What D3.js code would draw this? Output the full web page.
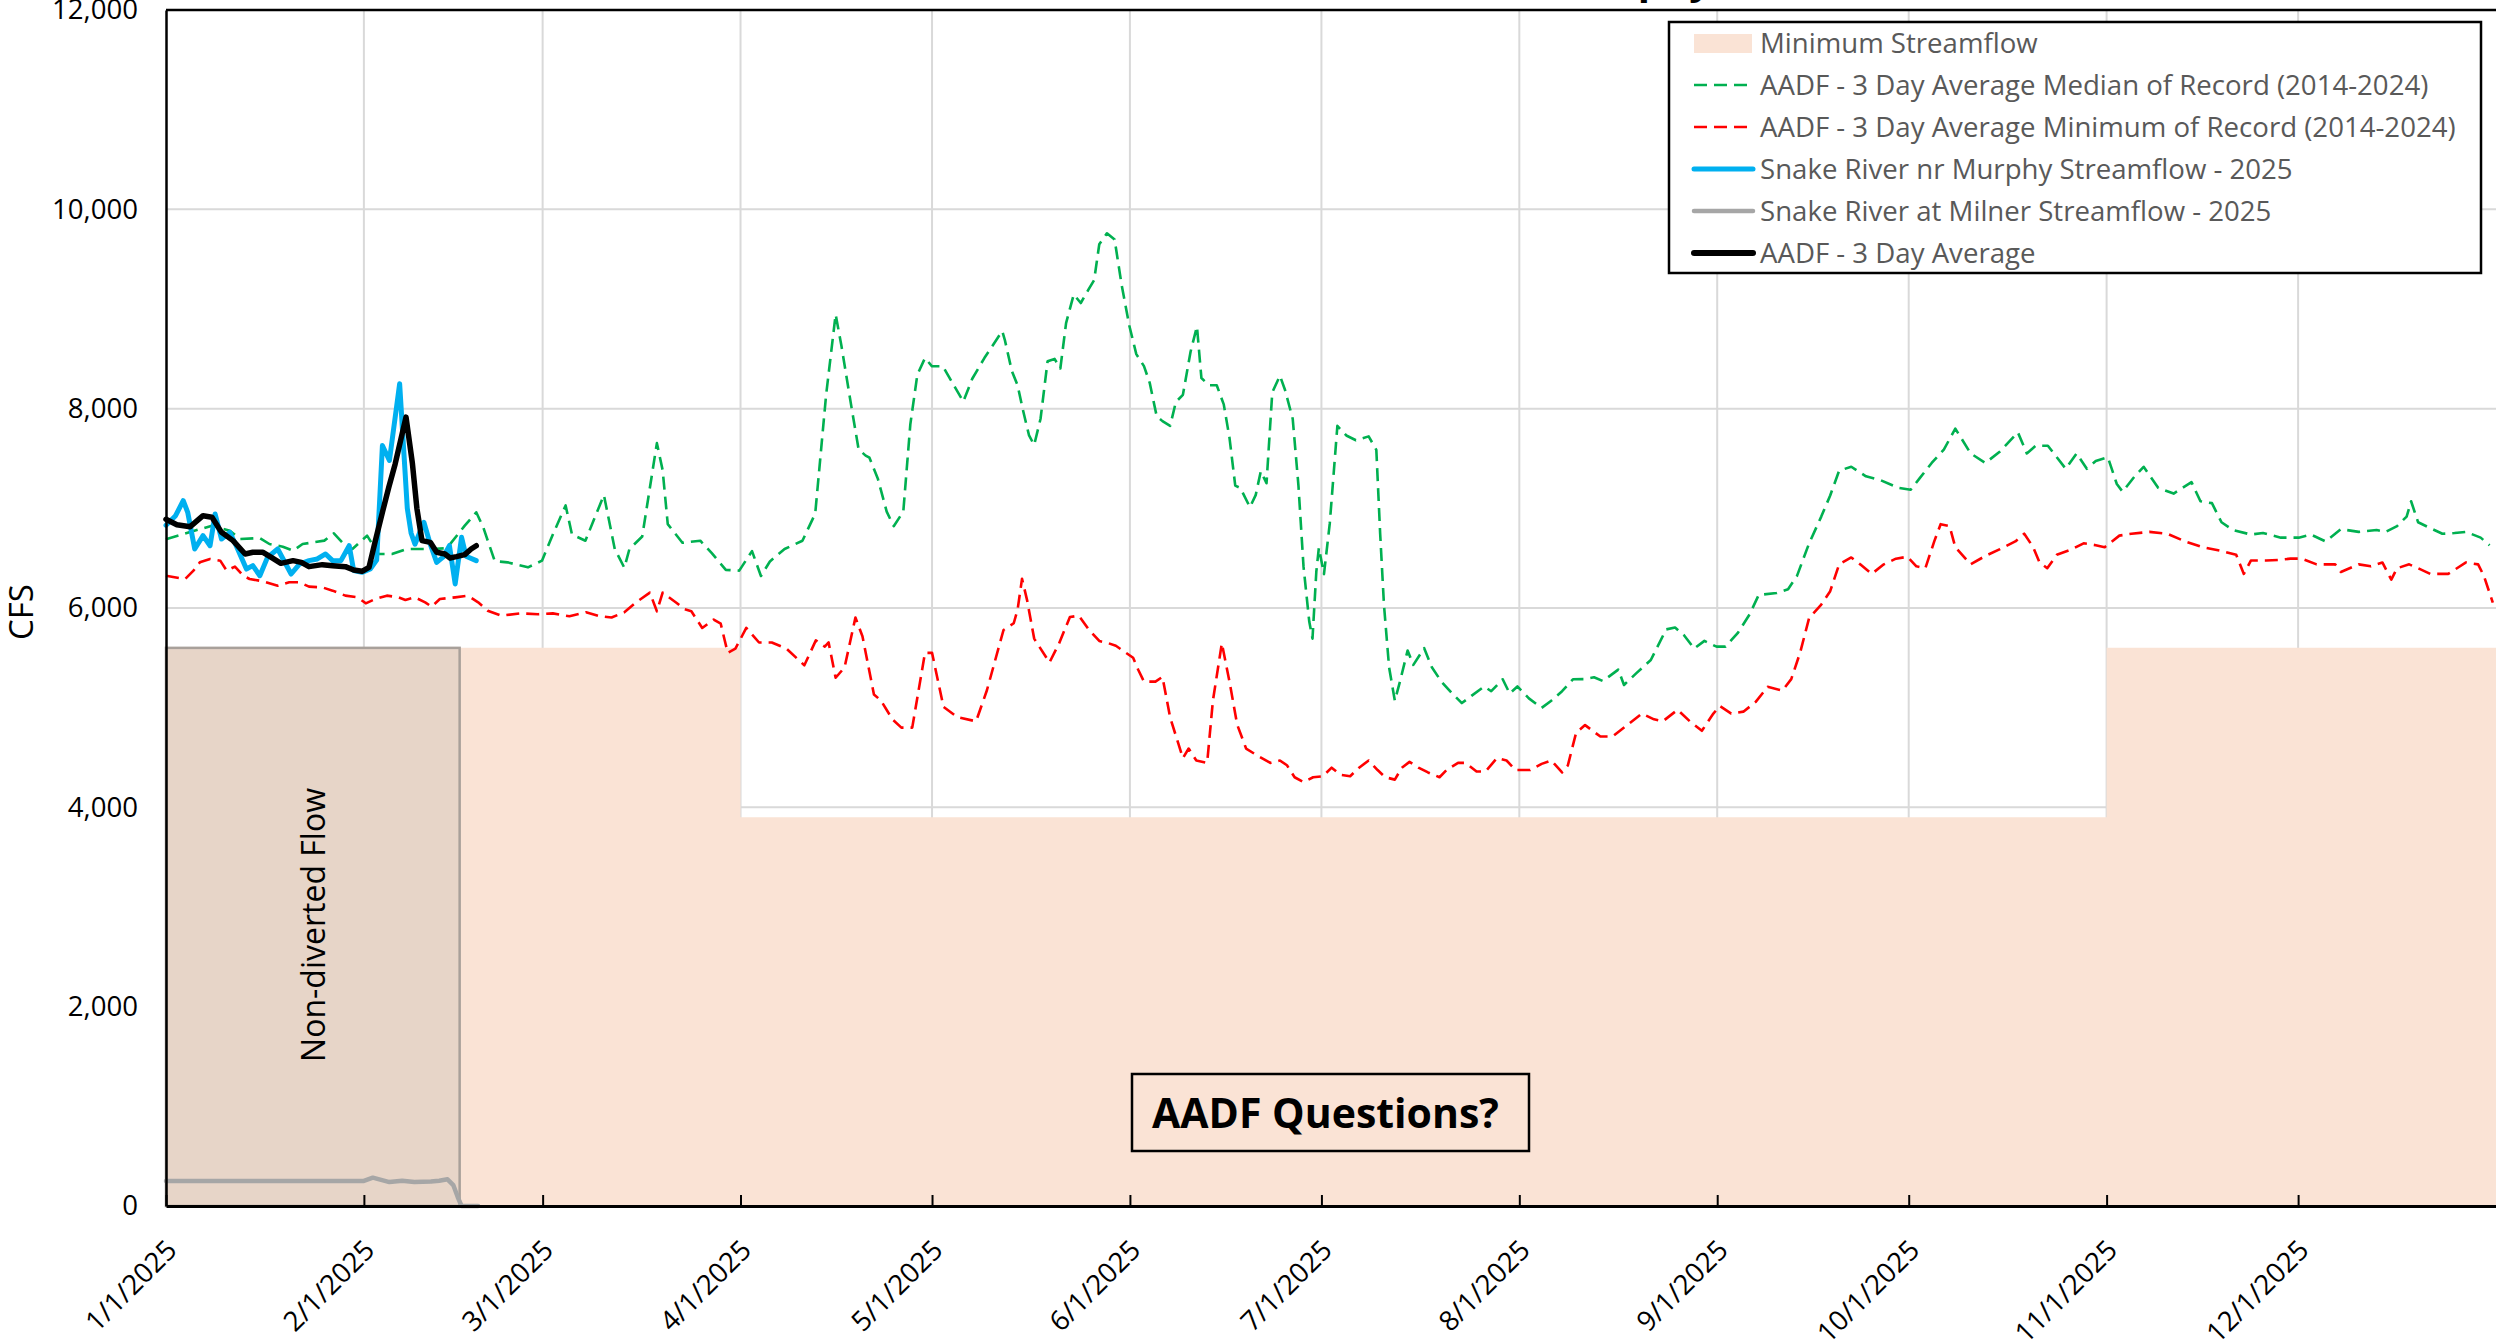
<!DOCTYPE html>
<html>
<head>
<meta charset="utf-8">
<script src="https://cdn.jsdelivr.net/npm/d3@7"></script>
<style>
  body { margin: 0; background: #fff; }
  svg { display: block; font-family: "Open Sans", sans-serif; }
</style>
</head>
<body>
<div id="chart"></div>
<script>
"use strict";

// [day of year (0 = 1/1/2025), cfs]
const medianRecord = [[0,6690],[2.7,6742],[7.2,6826],[10,6776],[11.6,6692],[14.7,6702],[16.2,6642],[18.3,6615],[19.9,6575],[21.4,6642],[24.8,6676],[26.3,6749],[27.6,6659],[29.2,6592],[31.5,6726],[33.3,6542],[35.4,6542],[37.7,6592],[41.6,6592],[44,6600],[46.8,6826],[48.6,6960],[49.7,6809],[51.5,6470],[53.5,6458],[56.7,6408],[58.9,6475],[60.6,6737],[62.6,7029],[63.6,6737],[65.7,6675],[68.6,7133],[70.3,6592],[71.8,6404],[72.6,6592],[74.6,6717],[76.9,7654],[77.8,7383],[78.6,6842],[80.9,6654],[83.7,6675],[85.5,6550],[87.7,6383],[89.8,6375],[91.8,6571],[93.2,6321],[94.6,6467],[96.9,6592],[99.7,6675],[101.7,6946],[103.4,8133],[104.9,8946],[105.8,8633],[107.4,8008],[108.5,7592],[109.6,7529],[110.2,7508],[111.5,7300],[112.9,6967],[114,6821],[115.5,6967],[116.6,7842],[117.7,8342],[118.9,8508],[120,8425],[121.7,8425],[123.2,8258],[124.9,8071],[126.3,8300],[128.2,8508],[131,8779],[131.4,8691],[132.5,8379],[133.4,8235],[134.3,7971],[135.2,7731],[136,7636],[137,7899],[138.1,8475],[139.2,8499],[140.1,8403],[141,8858],[142.2,9146],[143.3,9060],[144.5,9194],[145.4,9290],[146.2,9650],[147.4,9760],[148.6,9698],[149.7,9242],[150.9,8835],[152,8547],[153.2,8427],[154.1,8259],[155.2,7923],[156.1,7875],[157.3,7827],[158.2,8067],[159.3,8139],[160.5,8571],[161.5,8825],[162.2,8307],[163.4,8235],[164.6,8235],[165.7,8043],[166.6,7707],[167.5,7228],[168.3,7204],[169.8,7012],[170.7,7132],[171.5,7372],[172.4,7252],[173.3,8163],[174.5,8331],[175.3,8187],[176.5,7899],[177.4,7228],[178.2,6412],[179.1,5861],[179.6,5693],[180.2,6364],[180.6,6604],[181.4,6340],[182.3,6844],[183.5,7827],[184.9,7731],[186.4,7683],[188.4,7722],[189.6,7587],[190.2,6748],[190.8,6029],[191.6,5405],[192.5,5070],[193.3,5261],[194.5,5573],[195.4,5429],[197.1,5597],[198.3,5405],[199.8,5261],[201.5,5141],[203,5046],[204.5,5118],[206.5,5213],[207.6,5165],[209.4,5285],[210.5,5141],[211.7,5213],[213.5,5093],[215.5,4998],[217,5070],[218.7,5165],[220.4,5285],[222.1,5286],[223.7,5305],[225.1,5267],[227.5,5382],[228.4,5228],[230.3,5344],[232.6,5478],[235,5785],[236.4,5804],[237.8,5727],[239.4,5593],[241,5670],[242.9,5612],[244.3,5612],[246.2,5747],[248.1,5939],[249.5,6131],[252.3,6150],[254.1,6188],[255.5,6322],[257.4,6649],[259.3,6917],[260.7,7129],[262.1,7378],[264,7417],[266.3,7321],[268.6,7282],[271.4,7205],[273.3,7186],[274.7,7301],[276.6,7455],[278.5,7589],[280.3,7800],[282.7,7551],[285,7455],[287.3,7570],[290.1,7762],[291.5,7551],[292.9,7628],[294.8,7628],[296.2,7512],[297.6,7397],[299.3,7551],[300.9,7397],[302.3,7474],[304.2,7512],[305.6,7244],[306.5,7167],[308.4,7321],[309.8,7417],[312.1,7205],[314.5,7148],[315.9,7205],[317.3,7263],[318.7,7071],[320.5,7052],[322,6860],[323.8,6783],[326.6,6737],[328.5,6752],[331.3,6706],[334.1,6706],[336,6737],[338.3,6668],[340.7,6791],[343.5,6764],[346.3,6783],[347.7,6764],[349.5,6822],[351,6917],[351.7,7071],[352.8,6860],[354.7,6802],[356.6,6745],[358.5,6752],[360.3,6764],[362.6,6706],[364,6629]];

const minimumRecord = [[0,6324],[3,6291],[4.3,6375],[5.3,6458],[6.9,6492],[8.5,6475],[9.5,6375],[10.8,6415],[12.1,6324],[13.1,6291],[15.2,6268],[17.5,6224],[19.3,6258],[20.9,6258],[22.4,6214],[24.5,6207],[26.1,6174],[28.1,6124],[30,6107],[31.3,6047],[32.8,6090],[34.6,6124],[36.4,6107],[37.5,6080],[39,6107],[40.6,6057],[41.6,6013],[42.9,6090],[45.3,6107],[47.3,6124],[48.9,6057],[50.4,5973],[52.5,5923],[55.5,5946],[58.3,5938],[60.6,5946],[63.2,5917],[65.8,5958],[68,5917],[69.8,5904],[71.8,5958],[73.5,6050],[75.8,6154],[76.9,5967],[77.8,6154],[80,6050],[81.2,5988],[82.3,5967],[84,5800],[85.8,5883],[86.9,5842],[88,5550],[89.2,5592],[90.9,5800],[92.9,5654],[94.9,5654],[97.2,5592],[100,5425],[101.8,5675],[103.2,5613],[103.8,5654],[104.9,5300],[106.3,5404],[108,5904],[109.1,5717],[110.9,5133],[112,5071],[113.8,4883],[115.2,4800],[116.9,4800],[118.9,5550],[120,5550],[121.8,5008],[124,4904],[126.9,4863],[128.6,5175],[131.2,5779],[132.8,5847],[133.4,5981],[134.1,6293],[134.9,6077],[136,5693],[138.4,5453],[139.9,5645],[141.6,5909],[143,5923],[144.5,5789],[146.2,5669],[147.7,5645],[148.8,5621],[150.2,5559],[151.5,5501],[152.3,5381],[153.2,5261],[155,5261],[156.1,5309],[157.3,4902],[159.3,4494],[160.2,4590],[161.4,4470],[163.1,4446],[164,5070],[165.4,5645],[166.6,5261],[167.8,4830],[169.2,4590],[171,4518],[173,4446],[174.5,4470],[175.6,4422],[176.8,4302],[178.2,4254],[179.7,4302],[181.2,4312],[182.6,4398],[184,4326],[185.5,4312],[186.9,4398],[188.4,4470],[189.8,4374],[191,4302],[192.5,4278],[193.6,4398],[194.8,4456],[196.2,4398],[197.7,4350],[199.5,4302],[200.6,4374],[202.4,4446],[203.6,4446],[205.3,4360],[206.7,4360],[208.5,4494],[210,4470],[211.4,4374],[213.7,4374],[215.5,4436],[217,4470],[218.7,4350],[219.6,4420],[220.9,4749],[222.3,4825],[224.7,4710],[226.6,4710],[229.3,4845],[231.2,4941],[233.1,4883],[234.5,4864],[236.8,4979],[238.7,4864],[240.6,4768],[242.4,4941],[243.4,5017],[245.2,4941],[247.1,4960],[249,5056],[250.9,5209],[253.2,5171],[254.6,5286],[256,5555],[257.4,5900],[259.3,6035],[260.7,6169],[262.1,6438],[264,6507],[265.4,6438],[267.2,6342],[269.1,6438],[271,6495],[272.8,6514],[274.2,6418],[275.6,6399],[277,6668],[278,6841],[279.4,6822],[280.3,6610],[282.7,6438],[285,6522],[287.3,6591],[289.7,6668],[291.1,6745],[292.5,6610],[293.5,6457],[294.7,6399],[296.2,6534],[298.6,6591],[300.4,6649],[302.3,6630],[303.7,6610],[306,6726],[307.9,6745],[310.7,6764],[313.5,6745],[316.3,6668],[319.1,6610],[322,6572],[324.3,6534],[325.5,6342],[326.6,6476],[329,6476],[331.3,6484],[332.8,6495],[334.6,6495],[336.9,6438],[338.3,6438],[339.8,6438],[340.7,6361],[343.5,6438],[345.4,6418],[347.2,6457],[348.6,6284],[349.5,6399],[351.4,6438],[352.8,6399],[354.7,6342],[357.5,6342],[360.3,6457],[362.2,6438],[363.1,6322],[364.5,6054]];

const murphyFlow = [[0,6830],[1.5,6926],[2.7,7077],[3.4,6960],[4.5,6592],[5.8,6726],[6.9,6625],[7.7,6943],[8.7,6692],[10,6759],[11,6625],[12.6,6391],[13.6,6425],[14.7,6324],[15.9,6508],[17.5,6592],[19.6,6341],[20.9,6441],[22.4,6475],[23.7,6492],[25,6542],[26.1,6475],[27.4,6475],[28.7,6625],[29.4,6375],[30.7,6358],[32,6391],[33,6480],[33.9,7630],[35,7480],[36.6,8250],[37.8,7000],[38.4,6750],[39,6640],[40.4,6860],[41.4,6640],[42.4,6458],[43.4,6510],[44.4,6625],[45.3,6241],[46.3,6709],[47,6520],[48.6,6475]];

const milnerFlow = [[0,251],[31,251],[32.4,284],[35,240],[37,254],[38.9,240],[41.5,245],[42.8,254],[44.1,268],[45,210],[45.7,90],[46.3,0],[48.9,0]];

const aadfAverage = [[0,6890],[1.7,6836],[3.8,6816],[5.8,6926],[7.2,6910],[8.7,6759],[10.5,6676],[12.4,6542],[13.6,6559],[15.2,6559],[16.5,6508],[18,6448],[19.9,6475],[21.2,6458],[22.4,6415],[24.5,6435],[26.1,6425],[28.1,6415],[29.4,6381],[30.7,6368],[31.8,6408],[32.8,6676],[33.9,6960],[34.9,7211],[35.9,7445],[37.6,7915],[38.6,7450],[39.3,7000],[40.1,6676],[41.4,6659],[42.4,6559],[43.7,6542],[44.5,6502],[45.5,6515],[46.8,6535],[47.8,6592],[48.6,6625]];

// minimum streamflow steps
const minFlowDates = ["2025-01-01", "2025-04-01", "2025-11-01", "2026-01-01"];
const minFlowValues = [5600, 3900, 5600, 5600];

// non-diverted flow period
const nonDivertedStart = "2025-01-01";
const nonDivertedEnd = "2025-02-16";
const nonDivertedTop = 5600;

const yTicks = [0, 2000, 4000, 6000, 8000, 10000, 12000];

const legendLabels = [
    "Minimum Streamflow",
    "AADF - 3 Day Average Median of Record (2014-2024)",
    "AADF - 3 Day Average Minimum of Record (2014-2024)",
    "Snake River nr Murphy Streamflow - 2025",
    "Snake River at Milner Streamflow - 2025",
    "AADF - 3 Day Average"
];

const msm = {
    width: 2496,
    height: 1340,
    left: 166,
    right: 2496,
    top: 10,
    bottom: 1206
};

const FONT = 27.6;
const DASH = "13,7";
const parseDay = d3.utcParse("%Y-%m-%d");
const start = parseDay("2025-01-01");
const end = parseDay("2026-01-01");

let svg = d3.select("#chart")
    .append("svg")
    .attr("width", msm.width)
    .attr("height", msm.height);

let x = d3.scaleUtc()
    .domain([start, end])
    .range([msm.left, msm.right]);

let y = d3.scaleLinear()
    .domain([0, 12000])
    .range([msm.bottom, msm.top]);

let dayToDate = (d) => new Date(start.getTime() + d * 86400000);
let monthTicks = d3.utcMonth.range(start, end);

// gridlines
svg.append("g")
    .selectAll("line")
    .data(yTicks.filter((v) => v > 0 && v < 12000))
    .join("line")
    .attr("x1", msm.left)
    .attr("x2", msm.right)
    .attr("y1", (d) => y(d))
    .attr("y2", (d) => y(d))
    .attr("stroke", "#d9d9d9")
    .attr("stroke-width", 2);

svg.append("g")
    .selectAll("line")
    .data(monthTicks.slice(1))
    .join("line")
    .attr("x1", (d) => x(d))
    .attr("x2", (d) => x(d))
    .attr("y1", msm.top)
    .attr("y2", msm.bottom)
    .attr("stroke", "#d9d9d9")
    .attr("stroke-width", 2);

// minimum streamflow area
let minFlow = minFlowDates.map((d, i) => ({ date: parseDay(d), value: minFlowValues[i] }));
svg.append("path")
    .datum(minFlow)
    .attr("fill", "#fae3d5")
    .attr("d", d3.area()
        .curve(d3.curveStepAfter)
        .x((d) => x(d.date))
        .y0(y(0))
        .y1((d) => y(d.value)));

// non-diverted flow box
let ndX0 = x(parseDay(nonDivertedStart));
let ndX1 = x(parseDay(nonDivertedEnd));
svg.append("rect")
    .attr("x", ndX0)
    .attr("y", y(nonDivertedTop))
    .attr("width", ndX1 - ndX0)
    .attr("height", y(0) - y(nonDivertedTop))
    .attr("fill", "#e7d5c8")
    .attr("stroke", "#a8a09a")
    .attr("stroke-width", 2.5);

svg.append("text")
    .attr("transform", "translate(" + ((ndX0 + ndX1) / 2 + 12) + "," + 925 + ") rotate(-90)")
    .attr("text-anchor", "middle")
    .attr("font-size", 32)
    .attr("fill", "#000")
    .text("Non-diverted Flow");

// series lines
function drawSeries(points, color, width, dash) {
    svg.append("path")
        .datum(points)
        .attr("fill", "none")
        .attr("stroke", color)
        .attr("stroke-width", width)
        .attr("stroke-dasharray", dash)
        .attr("stroke-linejoin", "round")
        .attr("stroke-linecap", dash ? "butt" : "round")
        .attr("d", d3.line()
            .x((d) => x(dayToDate(d[0])))
            .y((d) => y(d[1])));
}

drawSeries(medianRecord, "#00b050", 2.6, DASH);
drawSeries(minimumRecord, "#ff0000", 2.6, DASH);
drawSeries(milnerFlow, "#a6a6a6", 4.5, null);
drawSeries(murphyFlow, "#00b0f0", 5, null);
drawSeries(aadfAverage, "#000000", 5.5, null);

// x axis
let xAxis = d3.axisBottom(x)
    .tickValues(monthTicks)
    .tickSizeInner(-11)
    .tickSizeOuter(0)
    .tickFormat(d3.utcFormat("%-m/%-d/%Y"));

let gx = svg.append("g")
    .attr("transform", "translate(0," + msm.bottom + ")")
    .call(xAxis)
    .attr("font-family", null)
    .attr("font-size", FONT);
gx.select(".domain").attr("stroke", "#000").attr("stroke-width", 3);
gx.selectAll(".tick line").attr("stroke", "#000").attr("stroke-width", 2);
gx.selectAll(".tick text")
    .attr("y", 0)
    .attr("dy", "0.35em")
    .attr("fill", "#000")
    .attr("text-anchor", "end")
    .attr("transform", "translate(5,39) rotate(-45)");

// y axis
let yAxis = d3.axisLeft(y)
    .tickValues(yTicks)
    .tickSize(0)
    .tickPadding(28)
    .tickFormat(d3.format(","));

let gy = svg.append("g")
    .attr("transform", "translate(" + msm.left + ",0)")
    .call(yAxis)
    .attr("font-family", null)
    .attr("font-size", FONT);
gy.select(".domain").attr("stroke", "#000").attr("stroke-width", 2.5);
gy.selectAll(".tick text").attr("fill", "#000");

// top border of plot area
svg.append("line")
    .attr("x1", msm.left)
    .attr("x2", msm.right)
    .attr("y1", y(12000))
    .attr("y2", y(12000))
    .attr("stroke", "#000")
    .attr("stroke-width", 2.5);

svg.append("text")
    .attr("transform", "translate(33," + 612 + ") rotate(-90)")
    .attr("text-anchor", "middle")
    .attr("font-size", 33)
    .attr("fill", "#000")
    .text("CFS");

// title (cut off at top of picture)
svg.append("text")
    .attr("x", 1712)
    .attr("y", -6)
    .attr("text-anchor", "end")
    .attr("font-size", 40)
    .attr("font-weight", "bold")
    .text("Snake River nr Murphy");

// legend
function drawLegend() {
    let lg = svg.append("g");
    lg.append("rect")
        .attr("x", 1669)
        .attr("y", 22)
        .attr("width", 812)
        .attr("height", 251)
        .attr("fill", "#fff")
        .attr("stroke", "#000")
        .attr("stroke-width", 2.5);

    let styles = [
        { type: "rect", color: "#fae3d5" },
        { type: "line", color: "#00b050", width: 2.6, dash: DASH },
        { type: "line", color: "#ff0000", width: 2.6, dash: DASH },
        { type: "line", color: "#00b0f0", width: 5 },
        { type: "line", color: "#a6a6a6", width: 4.5 },
        { type: "line", color: "#000000", width: 6 }
    ];
    let rowY = (i) => 43 + i * 42;

    legendLabels.forEach((label, i) => {
        let s = styles[i];
        if (s.type === "rect") {
            lg.append("rect")
                .attr("x", 1694)
                .attr("y", rowY(i) - 9)
                .attr("width", 58)
                .attr("height", 19)
                .attr("fill", s.color);
        } else {
            lg.append("line")
                .attr("x1", 1694)
                .attr("x2", 1753)
                .attr("y1", rowY(i))
                .attr("y2", rowY(i))
                .attr("stroke", s.color)
                .attr("stroke-width", s.width)
                .attr("stroke-dasharray", s.dash || null)
                .attr("stroke-linecap", s.dash ? "butt" : "round");
        }
        lg.append("text")
            .attr("x", 1760)
            .attr("y", rowY(i))
            .attr("dy", "0.35em")
            .attr("font-size", FONT)
            .attr("fill", "#595959")
            .text(label);
    });
}
drawLegend();

// annotation box
svg.append("rect")
    .attr("x", 1132)
    .attr("y", 1074)
    .attr("width", 397)
    .attr("height", 77)
    .attr("fill", "none")
    .attr("stroke", "#000")
    .attr("stroke-width", 2.5);

svg.append("text")
    .attr("x", 1152)
    .attr("y", 1128)
    .attr("font-size", 41)
    .attr("font-weight", "bold")
    .attr("fill", "#000")
    .text("AADF Questions?");
</script>
</body>
</html>
